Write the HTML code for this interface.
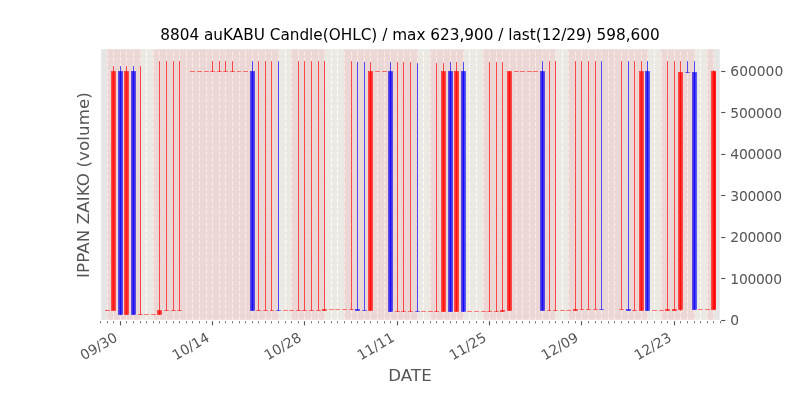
<!DOCTYPE html>
<html><head><meta charset="utf-8"><title>8804 auKABU Candle(OHLC)</title>
<style>html,body{margin:0;padding:0;background:#fff;overflow:hidden}body{width:800px;height:400px}</style></head>
<body>
<svg width="800" height="400" viewBox="0 0 800 400" style="display:block">
<rect x="0" y="0" width="800" height="400" fill="#ffffff"/>
<rect x="100" y="48" width="620" height="272" fill="#e5e5e5"/>
<line x1="107.5" y1="320.5" x2="107.5" y2="48" stroke="#fffcf7" stroke-width="1.11" stroke-dasharray="4.111 1.778"/>
<line x1="113.5" y1="320.5" x2="113.5" y2="48" stroke="#fffcf7" stroke-width="1.11" stroke-dasharray="4.111 1.778"/>
<line x1="120.5" y1="320.5" x2="120.5" y2="48" stroke="#fffcf7" stroke-width="1.11" stroke-dasharray="4.111 1.778"/>
<line x1="126.5" y1="320.5" x2="126.5" y2="48" stroke="#fffcf7" stroke-width="1.11" stroke-dasharray="4.111 1.778"/>
<line x1="133.5" y1="320.5" x2="133.5" y2="48" stroke="#fffcf7" stroke-width="1.11" stroke-dasharray="4.111 1.778"/>
<line x1="140.5" y1="320.5" x2="140.5" y2="48" stroke="#fffcf7" stroke-width="1.11" stroke-dasharray="4.111 1.778"/>
<line x1="146.5" y1="320.5" x2="146.5" y2="48" stroke="#ffffff" stroke-width="1.11" stroke-dasharray="4.111 1.778"/>
<line x1="153.5" y1="320.5" x2="153.5" y2="48" stroke="#fffcf7" stroke-width="1.11" stroke-dasharray="4.111 1.778"/>
<line x1="159.5" y1="320.5" x2="159.5" y2="48" stroke="#fffcf7" stroke-width="1.11" stroke-dasharray="4.111 1.778"/>
<line x1="166.5" y1="320.5" x2="166.5" y2="48" stroke="#fffcf7" stroke-width="1.11" stroke-dasharray="4.111 1.778"/>
<line x1="173.5" y1="320.5" x2="173.5" y2="48" stroke="#fffcf7" stroke-width="1.11" stroke-dasharray="4.111 1.778"/>
<line x1="179.5" y1="320.5" x2="179.5" y2="48" stroke="#fffcf7" stroke-width="1.11" stroke-dasharray="4.111 1.778"/>
<line x1="186.5" y1="320.5" x2="186.5" y2="48" stroke="#fffcf7" stroke-width="1.11" stroke-dasharray="4.111 1.778"/>
<line x1="192.5" y1="320.5" x2="192.5" y2="48" stroke="#fffcf7" stroke-width="1.11" stroke-dasharray="4.111 1.778"/>
<line x1="199.5" y1="320.5" x2="199.5" y2="48" stroke="#fffcf7" stroke-width="1.11" stroke-dasharray="4.111 1.778"/>
<line x1="206.5" y1="320.5" x2="206.5" y2="48" stroke="#fffcf7" stroke-width="1.11" stroke-dasharray="4.111 1.778"/>
<line x1="212.5" y1="320.5" x2="212.5" y2="48" stroke="#fffcf7" stroke-width="1.11" stroke-dasharray="4.111 1.778"/>
<line x1="219.5" y1="320.5" x2="219.5" y2="48" stroke="#fffcf7" stroke-width="1.11" stroke-dasharray="4.111 1.778"/>
<line x1="225.5" y1="320.5" x2="225.5" y2="48" stroke="#fffcf7" stroke-width="1.11" stroke-dasharray="4.111 1.778"/>
<line x1="232.5" y1="320.5" x2="232.5" y2="48" stroke="#fffcf7" stroke-width="1.11" stroke-dasharray="4.111 1.778"/>
<line x1="239.5" y1="320.5" x2="239.5" y2="48" stroke="#fffcf7" stroke-width="1.11" stroke-dasharray="4.111 1.778"/>
<line x1="245.5" y1="320.5" x2="245.5" y2="48" stroke="#fffcf7" stroke-width="1.11" stroke-dasharray="4.111 1.778"/>
<line x1="252.5" y1="320.5" x2="252.5" y2="48" stroke="#fffcf7" stroke-width="1.11" stroke-dasharray="4.111 1.778"/>
<line x1="258.5" y1="320.5" x2="258.5" y2="48" stroke="#fffcf7" stroke-width="1.11" stroke-dasharray="4.111 1.778"/>
<line x1="265.5" y1="320.5" x2="265.5" y2="48" stroke="#fffcf7" stroke-width="1.11" stroke-dasharray="4.111 1.778"/>
<line x1="271.5" y1="320.5" x2="271.5" y2="48" stroke="#fffcf7" stroke-width="1.11" stroke-dasharray="4.111 1.778"/>
<line x1="278.5" y1="320.5" x2="278.5" y2="48" stroke="#fffcf7" stroke-width="1.11" stroke-dasharray="4.111 1.778"/>
<line x1="285.5" y1="320.5" x2="285.5" y2="48" stroke="#ffffff" stroke-width="1.11" stroke-dasharray="4.111 1.778"/>
<line x1="291.5" y1="320.5" x2="291.5" y2="48" stroke="#fffcf7" stroke-width="1.11" stroke-dasharray="4.111 1.778"/>
<line x1="298.5" y1="320.5" x2="298.5" y2="48" stroke="#fffcf7" stroke-width="1.11" stroke-dasharray="4.111 1.778"/>
<line x1="304.5" y1="320.5" x2="304.5" y2="48" stroke="#fffcf7" stroke-width="1.11" stroke-dasharray="4.111 1.778"/>
<line x1="311.5" y1="320.5" x2="311.5" y2="48" stroke="#fffcf7" stroke-width="1.11" stroke-dasharray="4.111 1.778"/>
<line x1="318.5" y1="320.5" x2="318.5" y2="48" stroke="#fffcf7" stroke-width="1.11" stroke-dasharray="4.111 1.778"/>
<line x1="324.5" y1="320.5" x2="324.5" y2="48" stroke="#fffcf7" stroke-width="1.11" stroke-dasharray="4.111 1.778"/>
<line x1="331.5" y1="320.5" x2="331.5" y2="48" stroke="#ffffff" stroke-width="1.11" stroke-dasharray="4.111 1.778"/>
<line x1="337.5" y1="320.5" x2="337.5" y2="48" stroke="#ffffff" stroke-width="1.11" stroke-dasharray="4.111 1.778"/>
<line x1="344.5" y1="320.5" x2="344.5" y2="48" stroke="#fffcf7" stroke-width="1.11" stroke-dasharray="4.111 1.778"/>
<line x1="351.5" y1="320.5" x2="351.5" y2="48" stroke="#fffcf7" stroke-width="1.11" stroke-dasharray="4.111 1.778"/>
<line x1="357.5" y1="320.5" x2="357.5" y2="48" stroke="#fffcf7" stroke-width="1.11" stroke-dasharray="4.111 1.778"/>
<line x1="364.5" y1="320.5" x2="364.5" y2="48" stroke="#fffcf7" stroke-width="1.11" stroke-dasharray="4.111 1.778"/>
<line x1="370.5" y1="320.5" x2="370.5" y2="48" stroke="#fffcf7" stroke-width="1.11" stroke-dasharray="4.111 1.778"/>
<line x1="377.5" y1="320.5" x2="377.5" y2="48" stroke="#fffcf7" stroke-width="1.11" stroke-dasharray="4.111 1.778"/>
<line x1="384.5" y1="320.5" x2="384.5" y2="48" stroke="#fffcf7" stroke-width="1.11" stroke-dasharray="4.111 1.778"/>
<line x1="390.5" y1="320.5" x2="390.5" y2="48" stroke="#fffcf7" stroke-width="1.11" stroke-dasharray="4.111 1.778"/>
<line x1="397.5" y1="320.5" x2="397.5" y2="48" stroke="#fffcf7" stroke-width="1.11" stroke-dasharray="4.111 1.778"/>
<line x1="403.5" y1="320.5" x2="403.5" y2="48" stroke="#fffcf7" stroke-width="1.11" stroke-dasharray="4.111 1.778"/>
<line x1="410.5" y1="320.5" x2="410.5" y2="48" stroke="#fffcf7" stroke-width="1.11" stroke-dasharray="4.111 1.778"/>
<line x1="417.5" y1="320.5" x2="417.5" y2="48" stroke="#fffcf7" stroke-width="1.11" stroke-dasharray="4.111 1.778"/>
<line x1="423.5" y1="320.5" x2="423.5" y2="48" stroke="#ffffff" stroke-width="1.11" stroke-dasharray="4.111 1.778"/>
<line x1="430.5" y1="320.5" x2="430.5" y2="48" stroke="#fffcf7" stroke-width="1.11" stroke-dasharray="4.111 1.778"/>
<line x1="436.5" y1="320.5" x2="436.5" y2="48" stroke="#fffcf7" stroke-width="1.11" stroke-dasharray="4.111 1.778"/>
<line x1="443.5" y1="320.5" x2="443.5" y2="48" stroke="#fffcf7" stroke-width="1.11" stroke-dasharray="4.111 1.778"/>
<line x1="450.5" y1="320.5" x2="450.5" y2="48" stroke="#fffcf7" stroke-width="1.11" stroke-dasharray="4.111 1.778"/>
<line x1="456.5" y1="320.5" x2="456.5" y2="48" stroke="#fffcf7" stroke-width="1.11" stroke-dasharray="4.111 1.778"/>
<line x1="463.5" y1="320.5" x2="463.5" y2="48" stroke="#fffcf7" stroke-width="1.11" stroke-dasharray="4.111 1.778"/>
<line x1="469.5" y1="320.5" x2="469.5" y2="48" stroke="#ffffff" stroke-width="1.11" stroke-dasharray="4.111 1.778"/>
<line x1="476.5" y1="320.5" x2="476.5" y2="48" stroke="#ffffff" stroke-width="1.11" stroke-dasharray="4.111 1.778"/>
<line x1="483.5" y1="320.5" x2="483.5" y2="48" stroke="#fffcf7" stroke-width="1.11" stroke-dasharray="4.111 1.778"/>
<line x1="489.5" y1="320.5" x2="489.5" y2="48" stroke="#fffcf7" stroke-width="1.11" stroke-dasharray="4.111 1.778"/>
<line x1="496.5" y1="320.5" x2="496.5" y2="48" stroke="#fffcf7" stroke-width="1.11" stroke-dasharray="4.111 1.778"/>
<line x1="502.5" y1="320.5" x2="502.5" y2="48" stroke="#fffcf7" stroke-width="1.11" stroke-dasharray="4.111 1.778"/>
<line x1="509.5" y1="320.5" x2="509.5" y2="48" stroke="#fffcf7" stroke-width="1.11" stroke-dasharray="4.111 1.778"/>
<line x1="516.5" y1="320.5" x2="516.5" y2="48" stroke="#fffcf7" stroke-width="1.11" stroke-dasharray="4.111 1.778"/>
<line x1="522.5" y1="320.5" x2="522.5" y2="48" stroke="#fffcf7" stroke-width="1.11" stroke-dasharray="4.111 1.778"/>
<line x1="529.5" y1="320.5" x2="529.5" y2="48" stroke="#fffcf7" stroke-width="1.11" stroke-dasharray="4.111 1.778"/>
<line x1="535.5" y1="320.5" x2="535.5" y2="48" stroke="#fffcf7" stroke-width="1.11" stroke-dasharray="4.111 1.778"/>
<line x1="542.5" y1="320.5" x2="542.5" y2="48" stroke="#fffcf7" stroke-width="1.11" stroke-dasharray="4.111 1.778"/>
<line x1="549.5" y1="320.5" x2="549.5" y2="48" stroke="#fffcf7" stroke-width="1.11" stroke-dasharray="4.111 1.778"/>
<line x1="555.5" y1="320.5" x2="555.5" y2="48" stroke="#fffcf7" stroke-width="1.11" stroke-dasharray="4.111 1.778"/>
<line x1="562.5" y1="320.5" x2="562.5" y2="48" stroke="#ffffff" stroke-width="1.11" stroke-dasharray="4.111 1.778"/>
<line x1="568.5" y1="320.5" x2="568.5" y2="48" stroke="#fffcf7" stroke-width="1.11" stroke-dasharray="4.111 1.778"/>
<line x1="575.5" y1="320.5" x2="575.5" y2="48" stroke="#fffcf7" stroke-width="1.11" stroke-dasharray="4.111 1.778"/>
<line x1="581.5" y1="320.5" x2="581.5" y2="48" stroke="#fffcf7" stroke-width="1.11" stroke-dasharray="4.111 1.778"/>
<line x1="588.5" y1="320.5" x2="588.5" y2="48" stroke="#fffcf7" stroke-width="1.11" stroke-dasharray="4.111 1.778"/>
<line x1="595.5" y1="320.5" x2="595.5" y2="48" stroke="#fffcf7" stroke-width="1.11" stroke-dasharray="4.111 1.778"/>
<line x1="601.5" y1="320.5" x2="601.5" y2="48" stroke="#fffcf7" stroke-width="1.11" stroke-dasharray="4.111 1.778"/>
<line x1="608.5" y1="320.5" x2="608.5" y2="48" stroke="#fffcf7" stroke-width="1.11" stroke-dasharray="4.111 1.778"/>
<line x1="614.5" y1="320.5" x2="614.5" y2="48" stroke="#fffcf7" stroke-width="1.11" stroke-dasharray="4.111 1.778"/>
<line x1="621.5" y1="320.5" x2="621.5" y2="48" stroke="#fffcf7" stroke-width="1.11" stroke-dasharray="4.111 1.778"/>
<line x1="628.5" y1="320.5" x2="628.5" y2="48" stroke="#fffcf7" stroke-width="1.11" stroke-dasharray="4.111 1.778"/>
<line x1="634.5" y1="320.5" x2="634.5" y2="48" stroke="#fffcf7" stroke-width="1.11" stroke-dasharray="4.111 1.778"/>
<line x1="641.5" y1="320.5" x2="641.5" y2="48" stroke="#fffcf7" stroke-width="1.11" stroke-dasharray="4.111 1.778"/>
<line x1="647.5" y1="320.5" x2="647.5" y2="48" stroke="#fffcf7" stroke-width="1.11" stroke-dasharray="4.111 1.778"/>
<line x1="654.5" y1="320.5" x2="654.5" y2="48" stroke="#ffffff" stroke-width="1.11" stroke-dasharray="4.111 1.778"/>
<line x1="661.5" y1="320.5" x2="661.5" y2="48" stroke="#fffcf7" stroke-width="1.11" stroke-dasharray="4.111 1.778"/>
<line x1="667.5" y1="320.5" x2="667.5" y2="48" stroke="#fffcf7" stroke-width="1.11" stroke-dasharray="4.111 1.778"/>
<line x1="674.5" y1="320.5" x2="674.5" y2="48" stroke="#fffcf7" stroke-width="1.11" stroke-dasharray="4.111 1.778"/>
<line x1="680.5" y1="320.5" x2="680.5" y2="48" stroke="#fffcf7" stroke-width="1.11" stroke-dasharray="4.111 1.778"/>
<line x1="687.5" y1="320.5" x2="687.5" y2="48" stroke="#fffcf7" stroke-width="1.11" stroke-dasharray="4.111 1.778"/>
<line x1="694.5" y1="320.5" x2="694.5" y2="48" stroke="#fffcf7" stroke-width="1.11" stroke-dasharray="4.111 1.778"/>
<line x1="700.5" y1="320.5" x2="700.5" y2="48" stroke="#ffffff" stroke-width="1.11" stroke-dasharray="4.111 1.778"/>
<line x1="707.5" y1="320.5" x2="707.5" y2="48" stroke="#fffcf7" stroke-width="1.11" stroke-dasharray="4.111 1.778"/>
<line x1="713.5" y1="320.5" x2="713.5" y2="48" stroke="#fffcf7" stroke-width="1.11" stroke-dasharray="4.111 1.778"/>
<line x1="105.15" y1="310.5" x2="109.85" y2="310.5" stroke="#ff0000" stroke-width="0.69"/>
<rect x="111.5" y="71.5" width="4.0" height="239.0" fill="#ff0000" stroke="#ff0000" stroke-width="0.69"/>
<rect x="118.5" y="71.5" width="4.0" height="243.0" fill="#0000ff" stroke="#0000ff" stroke-width="0.69"/>
<rect x="124.5" y="71.5" width="4.0" height="243.0" fill="#ff0000" stroke="#ff0000" stroke-width="0.69"/>
<rect x="131.5" y="71.5" width="4.0" height="243.0" fill="#0000ff" stroke="#0000ff" stroke-width="0.69"/>
<line x1="138.15" y1="314.5" x2="142.85" y2="314.5" stroke="#ff0000" stroke-width="0.69"/>
<line x1="144.15" y1="314.5" x2="148.85" y2="314.5" stroke="#ff0000" stroke-width="0.69"/>
<line x1="151.15" y1="314.5" x2="155.85" y2="314.5" stroke="#ff0000" stroke-width="0.69"/>
<rect x="157.5" y="310.5" width="4.0" height="4.0" fill="#ff0000" stroke="#ff0000" stroke-width="0.69"/>
<line x1="164.15" y1="310.5" x2="168.85" y2="310.5" stroke="#ff0000" stroke-width="0.69"/>
<line x1="171.15" y1="310.5" x2="175.85" y2="310.5" stroke="#ff0000" stroke-width="0.69"/>
<line x1="177.15" y1="310.5" x2="181.85" y2="310.5" stroke="#ff0000" stroke-width="0.69"/>
<line x1="190.15" y1="71.5" x2="194.85" y2="71.5" stroke="#ff0000" stroke-width="0.69"/>
<line x1="197.15" y1="71.5" x2="201.85" y2="71.5" stroke="#ff0000" stroke-width="0.69"/>
<line x1="204.15" y1="71.5" x2="208.85" y2="71.5" stroke="#ff0000" stroke-width="0.69"/>
<line x1="210.15" y1="71.5" x2="214.85" y2="71.5" stroke="#ff0000" stroke-width="0.69"/>
<line x1="217.15" y1="71.5" x2="221.85" y2="71.5" stroke="#ff0000" stroke-width="0.69"/>
<line x1="223.15" y1="71.5" x2="227.85" y2="71.5" stroke="#ff0000" stroke-width="0.69"/>
<line x1="230.15" y1="71.5" x2="234.85" y2="71.5" stroke="#ff0000" stroke-width="0.69"/>
<line x1="237.15" y1="71.5" x2="240.85" y2="71.5" stroke="#ff0000" stroke-width="0.69"/>
<line x1="243.15" y1="71.5" x2="247.85" y2="71.5" stroke="#ff0000" stroke-width="0.69"/>
<rect x="250.5" y="71.5" width="4.0" height="239.0" fill="#0000ff" stroke="#0000ff" stroke-width="0.69"/>
<line x1="256.15" y1="310.5" x2="260.85" y2="310.5" stroke="#ff0000" stroke-width="0.69"/>
<line x1="263.15" y1="310.5" x2="267.85" y2="310.5" stroke="#ff0000" stroke-width="0.69"/>
<line x1="270.15" y1="310.5" x2="273.85" y2="310.5" stroke="#ff0000" stroke-width="0.69"/>
<line x1="276.15" y1="310.5" x2="280.85" y2="310.5" stroke="#0000ff" stroke-width="0.69"/>
<line x1="283.15" y1="310.5" x2="287.85" y2="310.5" stroke="#ff0000" stroke-width="0.69"/>
<line x1="289.15" y1="310.5" x2="293.85" y2="310.5" stroke="#ff0000" stroke-width="0.69"/>
<line x1="296.15" y1="310.5" x2="300.85" y2="310.5" stroke="#ff0000" stroke-width="0.69"/>
<line x1="302.15" y1="310.5" x2="306.85" y2="310.5" stroke="#ff0000" stroke-width="0.69"/>
<line x1="309.15" y1="310.5" x2="313.85" y2="310.5" stroke="#ff0000" stroke-width="0.69"/>
<line x1="316.15" y1="310.5" x2="320.85" y2="310.5" stroke="#ff0000" stroke-width="0.69"/>
<rect x="322.5" y="309.5" width="4.0" height="1.0" fill="#ff0000" stroke="#ff0000" stroke-width="0.69"/>
<line x1="329.15" y1="309.5" x2="333.85" y2="309.5" stroke="#ff0000" stroke-width="0.69"/>
<line x1="335.15" y1="309.5" x2="339.85" y2="309.5" stroke="#ff0000" stroke-width="0.69"/>
<line x1="342.15" y1="309.5" x2="346.85" y2="309.5" stroke="#ff0000" stroke-width="0.69"/>
<line x1="349.15" y1="309.5" x2="353.85" y2="309.5" stroke="#ff0000" stroke-width="0.69"/>
<rect x="355.5" y="309.5" width="4.0" height="1.0" fill="#0000ff" stroke="#0000ff" stroke-width="0.69"/>
<line x1="362.15" y1="310.5" x2="366.85" y2="310.5" stroke="#0000ff" stroke-width="0.69"/>
<rect x="368.5" y="71.5" width="4.0" height="239.0" fill="#ff0000" stroke="#ff0000" stroke-width="0.69"/>
<line x1="375.15" y1="71.5" x2="379.85" y2="71.5" stroke="#ff0000" stroke-width="0.69"/>
<line x1="382.15" y1="71.5" x2="386.85" y2="71.5" stroke="#ff0000" stroke-width="0.69"/>
<rect x="388.5" y="71.5" width="4.0" height="240.0" fill="#0000ff" stroke="#0000ff" stroke-width="0.69"/>
<line x1="395.15" y1="311.5" x2="399.85" y2="311.5" stroke="#ff0000" stroke-width="0.69"/>
<line x1="401.15" y1="311.5" x2="405.85" y2="311.5" stroke="#ff0000" stroke-width="0.69"/>
<line x1="408.15" y1="311.5" x2="412.85" y2="311.5" stroke="#ff0000" stroke-width="0.69"/>
<line x1="415.15" y1="311.5" x2="419.85" y2="311.5" stroke="#0000ff" stroke-width="0.69"/>
<line x1="421.15" y1="311.5" x2="425.85" y2="311.5" stroke="#ff0000" stroke-width="0.69"/>
<line x1="428.15" y1="311.5" x2="432.85" y2="311.5" stroke="#ff0000" stroke-width="0.69"/>
<line x1="434.15" y1="311.5" x2="438.85" y2="311.5" stroke="#ff0000" stroke-width="0.69"/>
<rect x="441.5" y="71.5" width="4.0" height="240.0" fill="#ff0000" stroke="#ff0000" stroke-width="0.69"/>
<rect x="448.5" y="71.5" width="4.0" height="240.0" fill="#0000ff" stroke="#0000ff" stroke-width="0.69"/>
<rect x="454.5" y="71.5" width="4.0" height="240.0" fill="#ff0000" stroke="#ff0000" stroke-width="0.69"/>
<rect x="461.5" y="71.5" width="4.0" height="240.0" fill="#0000ff" stroke="#0000ff" stroke-width="0.69"/>
<line x1="467.15" y1="311.5" x2="471.85" y2="311.5" stroke="#ff0000" stroke-width="0.69"/>
<line x1="474.15" y1="311.5" x2="478.85" y2="311.5" stroke="#ff0000" stroke-width="0.69"/>
<line x1="481.15" y1="311.5" x2="485.85" y2="311.5" stroke="#ff0000" stroke-width="0.69"/>
<line x1="487.15" y1="311.5" x2="491.85" y2="311.5" stroke="#ff0000" stroke-width="0.69"/>
<line x1="494.15" y1="311.5" x2="498.85" y2="311.5" stroke="#ff0000" stroke-width="0.69"/>
<rect x="500.5" y="310.5" width="4.0" height="1.0" fill="#ff0000" stroke="#ff0000" stroke-width="0.69"/>
<rect x="507.5" y="71.5" width="4.0" height="239.0" fill="#ff0000" stroke="#ff0000" stroke-width="0.69"/>
<line x1="514.15" y1="71.5" x2="518.85" y2="71.5" stroke="#ff0000" stroke-width="0.69"/>
<line x1="520.15" y1="71.5" x2="524.85" y2="71.5" stroke="#ff0000" stroke-width="0.69"/>
<line x1="527.15" y1="71.5" x2="531.85" y2="71.5" stroke="#ff0000" stroke-width="0.69"/>
<line x1="533.15" y1="71.5" x2="537.85" y2="71.5" stroke="#ff0000" stroke-width="0.69"/>
<rect x="540.5" y="71.5" width="4.0" height="239.0" fill="#0000ff" stroke="#0000ff" stroke-width="0.69"/>
<line x1="547.15" y1="310.5" x2="550.85" y2="310.5" stroke="#ff0000" stroke-width="0.69"/>
<line x1="553.15" y1="310.5" x2="557.85" y2="310.5" stroke="#ff0000" stroke-width="0.69"/>
<line x1="560.15" y1="310.5" x2="564.85" y2="310.5" stroke="#ff0000" stroke-width="0.69"/>
<line x1="566.15" y1="310.5" x2="570.85" y2="310.5" stroke="#ff0000" stroke-width="0.69"/>
<rect x="573.5" y="309.5" width="4.0" height="1.0" fill="#ff0000" stroke="#ff0000" stroke-width="0.69"/>
<line x1="580.15" y1="309.5" x2="583.85" y2="309.5" stroke="#ff0000" stroke-width="0.69"/>
<line x1="586.15" y1="309.5" x2="590.85" y2="309.5" stroke="#ff0000" stroke-width="0.69"/>
<line x1="593.15" y1="309.5" x2="597.85" y2="309.5" stroke="#ff0000" stroke-width="0.69"/>
<line x1="599.15" y1="309.5" x2="603.85" y2="309.5" stroke="#0000ff" stroke-width="0.69"/>
<line x1="619.15" y1="309.5" x2="623.85" y2="309.5" stroke="#ff0000" stroke-width="0.69"/>
<rect x="626.5" y="309.5" width="4.0" height="1.0" fill="#0000ff" stroke="#0000ff" stroke-width="0.69"/>
<line x1="632.15" y1="310.5" x2="636.85" y2="310.5" stroke="#ff0000" stroke-width="0.69"/>
<rect x="639.5" y="71.5" width="4.0" height="239.0" fill="#ff0000" stroke="#ff0000" stroke-width="0.69"/>
<rect x="645.5" y="71.5" width="4.0" height="239.0" fill="#0000ff" stroke="#0000ff" stroke-width="0.69"/>
<line x1="652.15" y1="310.5" x2="656.85" y2="310.5" stroke="#ff0000" stroke-width="0.69"/>
<line x1="659.15" y1="310.5" x2="663.85" y2="310.5" stroke="#ff0000" stroke-width="0.69"/>
<rect x="665.5" y="309.5" width="4.0" height="1.0" fill="#ff0000" stroke="#ff0000" stroke-width="0.69"/>
<rect x="672.5" y="309.5" width="4.0" height="1.0" fill="#ff0000" stroke="#ff0000" stroke-width="0.69"/>
<rect x="678.5" y="72.5" width="4.0" height="237.0" fill="#ff0000" stroke="#ff0000" stroke-width="0.69"/>
<line x1="685.15" y1="72.5" x2="689.85" y2="72.5" stroke="#0000ff" stroke-width="0.69"/>
<rect x="692.5" y="72.5" width="4.0" height="237.0" fill="#0000ff" stroke="#0000ff" stroke-width="0.69"/>
<line x1="698.15" y1="309.5" x2="702.85" y2="309.5" stroke="#ff0000" stroke-width="0.69"/>
<line x1="705.15" y1="309.5" x2="709.85" y2="309.5" stroke="#ff0000" stroke-width="0.69"/>
<rect x="711.5" y="71.5" width="4.0" height="238.0" fill="#ff0000" stroke="#ff0000" stroke-width="0.69"/>
<rect x="106.95" y="48" width="34.10" height="272" fill="rgba(251,180,174,0.27)"/>
<rect x="141.05" y="48" width="11.90" height="272" fill="rgba(255,244,225,0.27)"/>
<rect x="152.95" y="48" width="126.10" height="272" fill="rgba(251,180,174,0.27)"/>
<rect x="279.05" y="48" width="11.90" height="272" fill="rgba(255,244,225,0.27)"/>
<rect x="290.95" y="48" width="34.10" height="272" fill="rgba(251,180,174,0.27)"/>
<rect x="325.05" y="48" width="18.90" height="272" fill="rgba(255,244,225,0.27)"/>
<rect x="343.95" y="48" width="74.10" height="272" fill="rgba(251,180,174,0.27)"/>
<rect x="418.05" y="48" width="11.90" height="272" fill="rgba(255,244,225,0.27)"/>
<rect x="429.95" y="48" width="34.10" height="272" fill="rgba(251,180,174,0.27)"/>
<rect x="464.05" y="48" width="18.90" height="272" fill="rgba(255,244,225,0.27)"/>
<rect x="482.95" y="48" width="73.10" height="272" fill="rgba(251,180,174,0.27)"/>
<rect x="556.05" y="48" width="11.90" height="272" fill="rgba(255,244,225,0.27)"/>
<rect x="567.95" y="48" width="80.10" height="272" fill="rgba(251,180,174,0.27)"/>
<rect x="648.05" y="48" width="12.90" height="272" fill="rgba(255,244,225,0.27)"/>
<rect x="660.95" y="48" width="34.10" height="272" fill="rgba(251,180,174,0.27)"/>
<rect x="695.05" y="48" width="11.90" height="272" fill="rgba(255,244,225,0.27)"/>
<rect x="706.95" y="48" width="7.10" height="272" fill="rgba(251,180,174,0.27)"/>
<line x1="113.5" y1="66.15" x2="113.5" y2="310.85" stroke="#ff0000" stroke-width="0.69"/>
<line x1="120.5" y1="66.15" x2="120.5" y2="314.85" stroke="#0000ff" stroke-width="0.69"/>
<line x1="126.5" y1="66.15" x2="126.5" y2="314.85" stroke="#ff0000" stroke-width="0.69"/>
<line x1="133.5" y1="66.15" x2="133.5" y2="314.85" stroke="#0000ff" stroke-width="0.69"/>
<line x1="140.5" y1="66.15" x2="140.5" y2="314.85" stroke="#ff0000" stroke-width="0.69"/>
<line x1="159.5" y1="61.15" x2="159.5" y2="314.85" stroke="#ff0000" stroke-width="0.69"/>
<line x1="166.5" y1="61.15" x2="166.5" y2="310.85" stroke="#ff0000" stroke-width="0.69"/>
<line x1="173.5" y1="61.15" x2="173.5" y2="310.85" stroke="#ff0000" stroke-width="0.69"/>
<line x1="179.5" y1="61.15" x2="179.5" y2="310.85" stroke="#ff0000" stroke-width="0.69"/>
<line x1="212.5" y1="61.15" x2="212.5" y2="71.85" stroke="#ff0000" stroke-width="0.69"/>
<line x1="219.5" y1="61.15" x2="219.5" y2="71.85" stroke="#ff0000" stroke-width="0.69"/>
<line x1="225.5" y1="61.15" x2="225.5" y2="71.85" stroke="#ff0000" stroke-width="0.69"/>
<line x1="232.5" y1="61.15" x2="232.5" y2="71.85" stroke="#ff0000" stroke-width="0.69"/>
<line x1="252.5" y1="61.15" x2="252.5" y2="310.85" stroke="#0000ff" stroke-width="0.69"/>
<line x1="258.5" y1="61.15" x2="258.5" y2="310.85" stroke="#ff0000" stroke-width="0.69"/>
<line x1="265.5" y1="61.15" x2="265.5" y2="310.85" stroke="#ff0000" stroke-width="0.69"/>
<line x1="271.5" y1="61.15" x2="271.5" y2="310.85" stroke="#ff0000" stroke-width="0.69"/>
<line x1="278.5" y1="61.15" x2="278.5" y2="310.85" stroke="#0000ff" stroke-width="0.69"/>
<line x1="298.5" y1="61.15" x2="298.5" y2="310.85" stroke="#ff0000" stroke-width="0.69"/>
<line x1="304.5" y1="61.15" x2="304.5" y2="310.85" stroke="#ff0000" stroke-width="0.69"/>
<line x1="311.5" y1="61.15" x2="311.5" y2="310.85" stroke="#ff0000" stroke-width="0.69"/>
<line x1="318.5" y1="61.15" x2="318.5" y2="310.85" stroke="#ff0000" stroke-width="0.69"/>
<line x1="324.5" y1="61.15" x2="324.5" y2="310.85" stroke="#ff0000" stroke-width="0.69"/>
<line x1="351.5" y1="61.15" x2="351.5" y2="309.85" stroke="#ff0000" stroke-width="0.69"/>
<line x1="357.5" y1="62.15" x2="357.5" y2="310.85" stroke="#0000ff" stroke-width="0.69"/>
<line x1="364.5" y1="62.15" x2="364.5" y2="310.85" stroke="#0000ff" stroke-width="0.69"/>
<line x1="370.5" y1="62.15" x2="370.5" y2="310.85" stroke="#ff0000" stroke-width="0.69"/>
<line x1="390.5" y1="62.15" x2="390.5" y2="311.85" stroke="#0000ff" stroke-width="0.69"/>
<line x1="397.5" y1="62.15" x2="397.5" y2="311.85" stroke="#ff0000" stroke-width="0.69"/>
<line x1="403.5" y1="62.15" x2="403.5" y2="311.85" stroke="#ff0000" stroke-width="0.69"/>
<line x1="410.5" y1="62.15" x2="410.5" y2="311.85" stroke="#ff0000" stroke-width="0.69"/>
<line x1="417.5" y1="63.15" x2="417.5" y2="311.85" stroke="#0000ff" stroke-width="0.69"/>
<line x1="436.5" y1="63.15" x2="436.5" y2="311.85" stroke="#ff0000" stroke-width="0.69"/>
<line x1="443.5" y1="63.15" x2="443.5" y2="311.85" stroke="#ff0000" stroke-width="0.69"/>
<line x1="450.5" y1="62.15" x2="450.5" y2="311.85" stroke="#0000ff" stroke-width="0.69"/>
<line x1="456.5" y1="62.15" x2="456.5" y2="311.85" stroke="#ff0000" stroke-width="0.69"/>
<line x1="463.5" y1="62.15" x2="463.5" y2="311.85" stroke="#0000ff" stroke-width="0.69"/>
<line x1="489.5" y1="62.15" x2="489.5" y2="311.85" stroke="#ff0000" stroke-width="0.69"/>
<line x1="496.5" y1="62.15" x2="496.5" y2="311.85" stroke="#ff0000" stroke-width="0.69"/>
<line x1="502.5" y1="62.15" x2="502.5" y2="311.85" stroke="#ff0000" stroke-width="0.69"/>
<line x1="509.5" y1="71.15" x2="509.5" y2="310.85" stroke="#ff0000" stroke-width="0.69"/>
<line x1="542.5" y1="61.15" x2="542.5" y2="310.85" stroke="#0000ff" stroke-width="0.69"/>
<line x1="549.5" y1="61.15" x2="549.5" y2="310.85" stroke="#ff0000" stroke-width="0.69"/>
<line x1="555.5" y1="61.15" x2="555.5" y2="310.85" stroke="#ff0000" stroke-width="0.69"/>
<line x1="575.5" y1="61.15" x2="575.5" y2="310.85" stroke="#ff0000" stroke-width="0.69"/>
<line x1="581.5" y1="61.15" x2="581.5" y2="309.85" stroke="#ff0000" stroke-width="0.69"/>
<line x1="588.5" y1="61.15" x2="588.5" y2="309.85" stroke="#ff0000" stroke-width="0.69"/>
<line x1="595.5" y1="61.15" x2="595.5" y2="309.85" stroke="#ff0000" stroke-width="0.69"/>
<line x1="601.5" y1="61.15" x2="601.5" y2="309.85" stroke="#0000ff" stroke-width="0.69"/>
<line x1="621.5" y1="61.15" x2="621.5" y2="309.85" stroke="#ff0000" stroke-width="0.69"/>
<line x1="628.5" y1="61.15" x2="628.5" y2="310.85" stroke="#0000ff" stroke-width="0.69"/>
<line x1="634.5" y1="61.15" x2="634.5" y2="310.85" stroke="#ff0000" stroke-width="0.69"/>
<line x1="641.5" y1="61.15" x2="641.5" y2="310.85" stroke="#ff0000" stroke-width="0.69"/>
<line x1="647.5" y1="61.15" x2="647.5" y2="310.85" stroke="#0000ff" stroke-width="0.69"/>
<line x1="667.5" y1="61.15" x2="667.5" y2="310.85" stroke="#ff0000" stroke-width="0.69"/>
<line x1="674.5" y1="61.15" x2="674.5" y2="310.85" stroke="#ff0000" stroke-width="0.69"/>
<line x1="680.5" y1="61.15" x2="680.5" y2="310.85" stroke="#ff0000" stroke-width="0.69"/>
<line x1="687.5" y1="61.15" x2="687.5" y2="72.85" stroke="#0000ff" stroke-width="0.69"/>
<line x1="694.5" y1="61.15" x2="694.5" y2="309.85" stroke="#0000ff" stroke-width="0.69"/>
<line x1="713.5" y1="70.15" x2="713.5" y2="309.85" stroke="#ff0000" stroke-width="0.69"/>
<line x1="100.5" y1="320.5" x2="100.5" y2="323.28" stroke="#555555" stroke-width="0.83"/>
<line x1="107.5" y1="320.5" x2="107.5" y2="323.28" stroke="#555555" stroke-width="0.83"/>
<line x1="113.5" y1="320.5" x2="113.5" y2="323.28" stroke="#555555" stroke-width="0.83"/>
<line x1="120.5" y1="320.5" x2="120.5" y2="325.36" stroke="#555555" stroke-width="1.11"/>
<line x1="126.5" y1="320.5" x2="126.5" y2="323.28" stroke="#555555" stroke-width="0.83"/>
<line x1="133.5" y1="320.5" x2="133.5" y2="323.28" stroke="#555555" stroke-width="0.83"/>
<line x1="140.5" y1="320.5" x2="140.5" y2="323.28" stroke="#555555" stroke-width="0.83"/>
<line x1="146.5" y1="320.5" x2="146.5" y2="323.28" stroke="#555555" stroke-width="0.83"/>
<line x1="153.5" y1="320.5" x2="153.5" y2="323.28" stroke="#555555" stroke-width="0.83"/>
<line x1="159.5" y1="320.5" x2="159.5" y2="323.28" stroke="#555555" stroke-width="0.83"/>
<line x1="166.5" y1="320.5" x2="166.5" y2="323.28" stroke="#555555" stroke-width="0.83"/>
<line x1="173.5" y1="320.5" x2="173.5" y2="323.28" stroke="#555555" stroke-width="0.83"/>
<line x1="179.5" y1="320.5" x2="179.5" y2="323.28" stroke="#555555" stroke-width="0.83"/>
<line x1="186.5" y1="320.5" x2="186.5" y2="323.28" stroke="#555555" stroke-width="0.83"/>
<line x1="192.5" y1="320.5" x2="192.5" y2="323.28" stroke="#555555" stroke-width="0.83"/>
<line x1="199.5" y1="320.5" x2="199.5" y2="323.28" stroke="#555555" stroke-width="0.83"/>
<line x1="206.5" y1="320.5" x2="206.5" y2="323.28" stroke="#555555" stroke-width="0.83"/>
<line x1="212.5" y1="320.5" x2="212.5" y2="325.36" stroke="#555555" stroke-width="1.11"/>
<line x1="219.5" y1="320.5" x2="219.5" y2="323.28" stroke="#555555" stroke-width="0.83"/>
<line x1="225.5" y1="320.5" x2="225.5" y2="323.28" stroke="#555555" stroke-width="0.83"/>
<line x1="232.5" y1="320.5" x2="232.5" y2="323.28" stroke="#555555" stroke-width="0.83"/>
<line x1="239.5" y1="320.5" x2="239.5" y2="323.28" stroke="#555555" stroke-width="0.83"/>
<line x1="245.5" y1="320.5" x2="245.5" y2="323.28" stroke="#555555" stroke-width="0.83"/>
<line x1="252.5" y1="320.5" x2="252.5" y2="323.28" stroke="#555555" stroke-width="0.83"/>
<line x1="258.5" y1="320.5" x2="258.5" y2="323.28" stroke="#555555" stroke-width="0.83"/>
<line x1="265.5" y1="320.5" x2="265.5" y2="323.28" stroke="#555555" stroke-width="0.83"/>
<line x1="271.5" y1="320.5" x2="271.5" y2="323.28" stroke="#555555" stroke-width="0.83"/>
<line x1="278.5" y1="320.5" x2="278.5" y2="323.28" stroke="#555555" stroke-width="0.83"/>
<line x1="285.5" y1="320.5" x2="285.5" y2="323.28" stroke="#555555" stroke-width="0.83"/>
<line x1="291.5" y1="320.5" x2="291.5" y2="323.28" stroke="#555555" stroke-width="0.83"/>
<line x1="298.5" y1="320.5" x2="298.5" y2="323.28" stroke="#555555" stroke-width="0.83"/>
<line x1="304.5" y1="320.5" x2="304.5" y2="325.36" stroke="#555555" stroke-width="1.11"/>
<line x1="311.5" y1="320.5" x2="311.5" y2="323.28" stroke="#555555" stroke-width="0.83"/>
<line x1="318.5" y1="320.5" x2="318.5" y2="323.28" stroke="#555555" stroke-width="0.83"/>
<line x1="324.5" y1="320.5" x2="324.5" y2="323.28" stroke="#555555" stroke-width="0.83"/>
<line x1="331.5" y1="320.5" x2="331.5" y2="323.28" stroke="#555555" stroke-width="0.83"/>
<line x1="337.5" y1="320.5" x2="337.5" y2="323.28" stroke="#555555" stroke-width="0.83"/>
<line x1="344.5" y1="320.5" x2="344.5" y2="323.28" stroke="#555555" stroke-width="0.83"/>
<line x1="351.5" y1="320.5" x2="351.5" y2="323.28" stroke="#555555" stroke-width="0.83"/>
<line x1="357.5" y1="320.5" x2="357.5" y2="323.28" stroke="#555555" stroke-width="0.83"/>
<line x1="364.5" y1="320.5" x2="364.5" y2="323.28" stroke="#555555" stroke-width="0.83"/>
<line x1="370.5" y1="320.5" x2="370.5" y2="323.28" stroke="#555555" stroke-width="0.83"/>
<line x1="377.5" y1="320.5" x2="377.5" y2="323.28" stroke="#555555" stroke-width="0.83"/>
<line x1="384.5" y1="320.5" x2="384.5" y2="323.28" stroke="#555555" stroke-width="0.83"/>
<line x1="390.5" y1="320.5" x2="390.5" y2="323.28" stroke="#555555" stroke-width="0.83"/>
<line x1="397.5" y1="320.5" x2="397.5" y2="325.36" stroke="#555555" stroke-width="1.11"/>
<line x1="403.5" y1="320.5" x2="403.5" y2="323.28" stroke="#555555" stroke-width="0.83"/>
<line x1="410.5" y1="320.5" x2="410.5" y2="323.28" stroke="#555555" stroke-width="0.83"/>
<line x1="417.5" y1="320.5" x2="417.5" y2="323.28" stroke="#555555" stroke-width="0.83"/>
<line x1="423.5" y1="320.5" x2="423.5" y2="323.28" stroke="#555555" stroke-width="0.83"/>
<line x1="430.5" y1="320.5" x2="430.5" y2="323.28" stroke="#555555" stroke-width="0.83"/>
<line x1="436.5" y1="320.5" x2="436.5" y2="323.28" stroke="#555555" stroke-width="0.83"/>
<line x1="443.5" y1="320.5" x2="443.5" y2="323.28" stroke="#555555" stroke-width="0.83"/>
<line x1="450.5" y1="320.5" x2="450.5" y2="323.28" stroke="#555555" stroke-width="0.83"/>
<line x1="456.5" y1="320.5" x2="456.5" y2="323.28" stroke="#555555" stroke-width="0.83"/>
<line x1="463.5" y1="320.5" x2="463.5" y2="323.28" stroke="#555555" stroke-width="0.83"/>
<line x1="469.5" y1="320.5" x2="469.5" y2="323.28" stroke="#555555" stroke-width="0.83"/>
<line x1="476.5" y1="320.5" x2="476.5" y2="323.28" stroke="#555555" stroke-width="0.83"/>
<line x1="483.5" y1="320.5" x2="483.5" y2="323.28" stroke="#555555" stroke-width="0.83"/>
<line x1="489.5" y1="320.5" x2="489.5" y2="325.36" stroke="#555555" stroke-width="1.11"/>
<line x1="496.5" y1="320.5" x2="496.5" y2="323.28" stroke="#555555" stroke-width="0.83"/>
<line x1="502.5" y1="320.5" x2="502.5" y2="323.28" stroke="#555555" stroke-width="0.83"/>
<line x1="509.5" y1="320.5" x2="509.5" y2="323.28" stroke="#555555" stroke-width="0.83"/>
<line x1="516.5" y1="320.5" x2="516.5" y2="323.28" stroke="#555555" stroke-width="0.83"/>
<line x1="522.5" y1="320.5" x2="522.5" y2="323.28" stroke="#555555" stroke-width="0.83"/>
<line x1="529.5" y1="320.5" x2="529.5" y2="323.28" stroke="#555555" stroke-width="0.83"/>
<line x1="535.5" y1="320.5" x2="535.5" y2="323.28" stroke="#555555" stroke-width="0.83"/>
<line x1="542.5" y1="320.5" x2="542.5" y2="323.28" stroke="#555555" stroke-width="0.83"/>
<line x1="549.5" y1="320.5" x2="549.5" y2="323.28" stroke="#555555" stroke-width="0.83"/>
<line x1="555.5" y1="320.5" x2="555.5" y2="323.28" stroke="#555555" stroke-width="0.83"/>
<line x1="562.5" y1="320.5" x2="562.5" y2="323.28" stroke="#555555" stroke-width="0.83"/>
<line x1="568.5" y1="320.5" x2="568.5" y2="323.28" stroke="#555555" stroke-width="0.83"/>
<line x1="575.5" y1="320.5" x2="575.5" y2="323.28" stroke="#555555" stroke-width="0.83"/>
<line x1="581.5" y1="320.5" x2="581.5" y2="325.36" stroke="#555555" stroke-width="1.11"/>
<line x1="588.5" y1="320.5" x2="588.5" y2="323.28" stroke="#555555" stroke-width="0.83"/>
<line x1="595.5" y1="320.5" x2="595.5" y2="323.28" stroke="#555555" stroke-width="0.83"/>
<line x1="601.5" y1="320.5" x2="601.5" y2="323.28" stroke="#555555" stroke-width="0.83"/>
<line x1="608.5" y1="320.5" x2="608.5" y2="323.28" stroke="#555555" stroke-width="0.83"/>
<line x1="614.5" y1="320.5" x2="614.5" y2="323.28" stroke="#555555" stroke-width="0.83"/>
<line x1="621.5" y1="320.5" x2="621.5" y2="323.28" stroke="#555555" stroke-width="0.83"/>
<line x1="628.5" y1="320.5" x2="628.5" y2="323.28" stroke="#555555" stroke-width="0.83"/>
<line x1="634.5" y1="320.5" x2="634.5" y2="323.28" stroke="#555555" stroke-width="0.83"/>
<line x1="641.5" y1="320.5" x2="641.5" y2="323.28" stroke="#555555" stroke-width="0.83"/>
<line x1="647.5" y1="320.5" x2="647.5" y2="323.28" stroke="#555555" stroke-width="0.83"/>
<line x1="654.5" y1="320.5" x2="654.5" y2="323.28" stroke="#555555" stroke-width="0.83"/>
<line x1="661.5" y1="320.5" x2="661.5" y2="323.28" stroke="#555555" stroke-width="0.83"/>
<line x1="667.5" y1="320.5" x2="667.5" y2="323.28" stroke="#555555" stroke-width="0.83"/>
<line x1="674.5" y1="320.5" x2="674.5" y2="325.36" stroke="#555555" stroke-width="1.11"/>
<line x1="680.5" y1="320.5" x2="680.5" y2="323.28" stroke="#555555" stroke-width="0.83"/>
<line x1="687.5" y1="320.5" x2="687.5" y2="323.28" stroke="#555555" stroke-width="0.83"/>
<line x1="694.5" y1="320.5" x2="694.5" y2="323.28" stroke="#555555" stroke-width="0.83"/>
<line x1="700.5" y1="320.5" x2="700.5" y2="323.28" stroke="#555555" stroke-width="0.83"/>
<line x1="707.5" y1="320.5" x2="707.5" y2="323.28" stroke="#555555" stroke-width="0.83"/>
<line x1="713.5" y1="320.5" x2="713.5" y2="323.28" stroke="#555555" stroke-width="0.83"/>
<line x1="720.5" y1="320.5" x2="720.5" y2="323.28" stroke="#555555" stroke-width="0.83"/>
<line x1="720.5" y1="320.5" x2="725.36" y2="320.5" stroke="#555555" stroke-width="1.11"/>
<text x="730.32" y="325.30" font-size="13.89" letter-spacing="-0.25" fill="#555555" font-family="'DejaVu Sans','Liberation Sans',sans-serif">0</text>
<line x1="720.5" y1="278.5" x2="725.36" y2="278.5" stroke="#555555" stroke-width="1.11"/>
<text x="730.32" y="283.78" font-size="13.89" letter-spacing="-0.25" fill="#555555" font-family="'DejaVu Sans','Liberation Sans',sans-serif">100000</text>
<line x1="720.5" y1="237.5" x2="725.36" y2="237.5" stroke="#555555" stroke-width="1.11"/>
<text x="730.32" y="242.26" font-size="13.89" letter-spacing="-0.25" fill="#555555" font-family="'DejaVu Sans','Liberation Sans',sans-serif">200000</text>
<line x1="720.5" y1="195.5" x2="725.36" y2="195.5" stroke="#555555" stroke-width="1.11"/>
<text x="730.32" y="200.74" font-size="13.89" letter-spacing="-0.25" fill="#555555" font-family="'DejaVu Sans','Liberation Sans',sans-serif">300000</text>
<line x1="720.5" y1="154.5" x2="725.36" y2="154.5" stroke="#555555" stroke-width="1.11"/>
<text x="730.32" y="159.22" font-size="13.89" letter-spacing="-0.25" fill="#555555" font-family="'DejaVu Sans','Liberation Sans',sans-serif">400000</text>
<line x1="720.5" y1="112.5" x2="725.36" y2="112.5" stroke="#555555" stroke-width="1.11"/>
<text x="730.32" y="117.70" font-size="13.89" letter-spacing="-0.25" fill="#555555" font-family="'DejaVu Sans','Liberation Sans',sans-serif">500000</text>
<line x1="720.5" y1="71.5" x2="725.36" y2="71.5" stroke="#555555" stroke-width="1.11"/>
<text x="730.32" y="76.18" font-size="13.89" letter-spacing="0" fill="#555555" font-family="'DejaVu Sans','Liberation Sans',sans-serif">600000</text>
<text transform="translate(118.40,340.42) rotate(-30)" text-anchor="end" font-size="13.89" fill="#555555" font-family="'DejaVu Sans','Liberation Sans',sans-serif">09/30</text>
<text transform="translate(210.40,340.42) rotate(-30)" text-anchor="end" font-size="13.89" fill="#555555" font-family="'DejaVu Sans','Liberation Sans',sans-serif">10/14</text>
<text transform="translate(302.40,340.42) rotate(-30)" text-anchor="end" font-size="13.89" fill="#555555" font-family="'DejaVu Sans','Liberation Sans',sans-serif">10/28</text>
<text transform="translate(395.40,340.42) rotate(-30)" text-anchor="end" font-size="13.89" fill="#555555" font-family="'DejaVu Sans','Liberation Sans',sans-serif">11/11</text>
<text transform="translate(487.40,340.42) rotate(-30)" text-anchor="end" font-size="13.89" fill="#555555" font-family="'DejaVu Sans','Liberation Sans',sans-serif">11/25</text>
<text transform="translate(579.40,340.42) rotate(-30)" text-anchor="end" font-size="13.89" fill="#555555" font-family="'DejaVu Sans','Liberation Sans',sans-serif">12/09</text>
<text transform="translate(672.40,340.42) rotate(-30)" text-anchor="end" font-size="13.89" fill="#555555" font-family="'DejaVu Sans','Liberation Sans',sans-serif">12/23</text>
<rect x="100" y="48" width="620" height="272" fill="none" stroke="#ffffff" stroke-width="1.39"  transform="translate(0.5,0.5)"/>
<text x="410" y="380.8" text-anchor="middle" font-size="16.67" fill="#555555" font-family="'DejaVu Sans','Liberation Sans',sans-serif">DATE</text>
<text transform="translate(88.8,185) rotate(-90)" text-anchor="middle" letter-spacing="0.1" font-size="16.67" fill="#555555" font-family="'DejaVu Sans','Liberation Sans',sans-serif">IPPAN ZAIKO (volume)</text>
<text x="410" y="39.6" text-anchor="middle" font-size="15.28" fill="#000000" font-family="'DejaVu Sans','Liberation Sans',sans-serif">8804 auKABU Candle(OHLC) / max 623,900 / last(12/29) 598,600</text>
</svg>
</body></html>
